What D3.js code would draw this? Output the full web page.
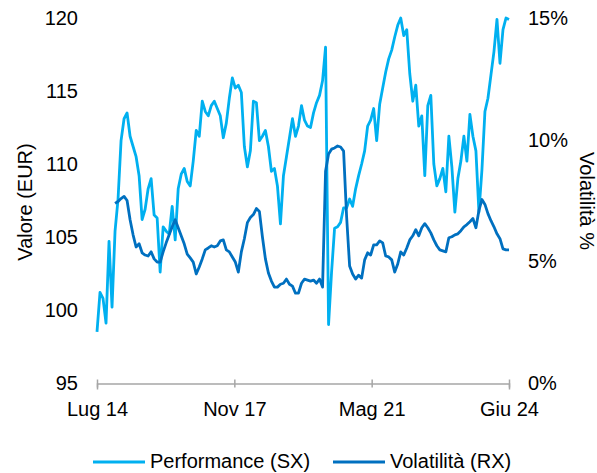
<!DOCTYPE html>
<html>
<head>
<meta charset="utf-8">
<script src="https://cdn.jsdelivr.net/npm/d3@7"></script>
<style>
  body { margin: 0; background: #fff; }
  svg { display: block; }
  text { font-family: "Liberation Sans", Arial, sans-serif; fill: #000; }
</style>
</head>
<body>
<svg id="chart" width="597" height="473"></svg>
<script>
// Fund value (left axis, EUR), sampled evenly from Jul 2014 to Jun 2024
const perfValues = [
  98.5, 101.2, 100.8, 99.1, 104.7, 100.2, 105.4, 107.6, 111.6, 113.1,
  113.5, 111.9, 111.2, 110.5, 109.2, 106.2, 106.9, 108.3, 109.0, 106.5,
  106.3, 102.6, 105.7, 105.4, 105.2, 107.1, 104.8, 108.3, 109.3, 109.7,
  108.8, 108.5, 110.2, 112.3, 111.9, 114.3, 113.6, 113.3, 114.0, 114.3,
  113.8, 113.3, 111.8, 112.8, 114.5, 115.9, 115.2, 115.4, 114.9, 111.2,
  109.8, 110.9, 114.3, 114.2, 111.6, 111.9, 112.3, 111.2, 109.5, 109.7,
  108.5, 105.9, 109.2, 110.5, 111.8, 113.1, 111.9, 112.6, 114.0, 113.0,
  112.6, 112.5, 113.5, 114.2, 114.7, 115.7, 118.0, 99.0, 102.6, 105.6,
  105.7, 106.0, 107.0, 107.0, 107.6, 107.1, 108.3, 109.2, 110.0, 110.9,
  112.6, 113.0, 113.8, 111.6, 114.1, 115.2, 116.3, 117.2, 117.8, 118.7,
  119.5, 120.0, 118.8, 119.2, 116.2, 114.3, 115.4, 112.6, 113.3, 109.2,
  114.0, 114.7, 110.0, 108.5, 109.0, 109.7, 108.1, 111.9, 109.8, 106.7,
  109.0, 110.2, 111.9, 110.2, 113.4, 111.9, 110.9, 106.7, 109.6, 113.6,
  114.5, 116.1, 117.7, 119.9, 116.9, 119.2, 120.0, 119.9
];

// Rolling volatility (right axis, %); the first samples have no value yet
const volValues = [
  null, null, null, null, null, null,
  7.38, 7.46, 7.58, 7.67, 7.50, 6.71, 6.09, 5.59, 5.72, 5.35,
  5.26, 5.22, 5.39, 5.10, 4.97, 4.97, 5.39, 5.76, 6.09, 6.42,
  6.71, 6.38, 6.05, 5.72, 5.30, 5.14, 4.97, 4.48, 4.77, 5.10,
  5.47, 5.55, 5.64, 5.59, 5.64, 5.84, 5.88, 5.47, 5.39, 5.18,
  4.97, 4.56, 5.39, 5.93, 6.59, 6.80, 6.92, 7.17, 7.05, 6.01,
  5.10, 4.52, 4.19, 3.94, 3.94, 4.06, 4.10, 4.27, 4.06, 3.98,
  3.69, 3.69, 4.10, 4.27, 4.23, 4.19, 4.23, 4.10, 4.27, 3.94,
  8.70, 9.41, 9.61, 9.66, 9.74, 9.70, 9.53, 6.84, 4.81, 4.48,
  4.27, 4.43, 4.31, 5.06, 5.35, 5.26, 5.68, 5.68, 5.84, 5.76,
  5.22, 5.18, 5.06, 4.56, 4.89, 5.39, 5.26, 5.55, 5.88, 6.05,
  6.30, 6.05, 6.38, 6.55, 6.38, 6.17, 5.88, 5.64, 5.47, 5.43,
  5.39, 5.97, 6.01, 6.09, 6.13, 6.26, 6.42, 6.51, 6.63, 6.76,
  6.38, 7.09, 7.54, 7.34, 6.96, 6.67, 6.42, 6.13, 5.93, 5.51,
  5.47, 5.47
];

const xTickLabels = ["Lug 14", "Nov 17", "Mag 21", "Giu 24"];
const leftTicks = [95, 100, 105, 110, 115, 120];
const rightTicks = [0, 5, 10, 15];
const seriesNames = ["Performance (SX)", "Volatilità (RX)"];
const seriesColors = ["#00b0f0", "#0070c0"];

const svg = d3.select("#chart");
const n = perfValues.length;

const x = d3.scaleLinear().domain([0, n - 1]).range([97, 509]);
const yLeft = d3.scaleLinear().domain([95, 120]).range([383, 18]);
const yRight = d3.scaleLinear().domain([0, 15]).range([383, 18]);

// Bottom axis: grey baseline with tick marks, evenly spaced date labels
const tickPos = xTickLabels.map((_, i) => (n - 1) * i / (xTickLabels.length - 1));
const xAxis = d3.axisBottom(x)
  .tickValues(tickPos)
  .tickFormat((d, i) => xTickLabels[i])
  .tickSizeOuter(0)
  .tickSize(6);
const gx = svg.append("g").attr("transform", "translate(0,383.5)").call(xAxis);
gx.select(".domain").attr("stroke", "#a6a6a6").attr("stroke-width", 1.5);
gx.selectAll(".tick line").attr("stroke", "#a6a6a6").attr("stroke-width", 1.5).attr("y1", -4).attr("y2", 4);
gx.selectAll(".tick text")
  .attr("y", 18).attr("dy", "0.71em")
  .style("font-size", "20px").style("font-family", "Liberation Sans, Arial, sans-serif").attr("fill", "#000");

// Left value axis (labels only)
const gl = svg.append("g").attr("transform", "translate(78,0)")
  .call(d3.axisLeft(yLeft).tickValues(leftTicks).tickSize(0).tickPadding(0));
gl.select(".domain").remove();
gl.selectAll(".tick text")
  .style("font-size", "20px").style("font-family", "Liberation Sans, Arial, sans-serif").attr("fill", "#000");

// Right volatility axis (labels only)
const gr = svg.append("g").attr("transform", "translate(528,0)")
  .call(d3.axisRight(yRight).tickValues(rightTicks).tickFormat(d => d + "%").tickSize(0).tickPadding(0));
gr.select(".domain").remove();
gr.selectAll(".tick text")
  .style("font-size", "20px").style("font-family", "Liberation Sans, Arial, sans-serif").attr("fill", "#000");

// Axis titles
svg.append("text")
  .attr("transform", "translate(32,202) rotate(-90)")
  .attr("text-anchor", "middle")
  .style("font-size", "20px")
  .text("Valore (EUR)");
svg.append("text")
  .attr("transform", "translate(580,201) rotate(90)")
  .attr("text-anchor", "middle")
  .style("font-size", "20px")
  .text("Volatilità %");

// Series lines
const perfLine = d3.line()
  .x((d, i) => x(i))
  .y(d => yLeft(d));
const volLine = d3.line()
  .defined(d => d !== null)
  .x((d, i) => x(i))
  .y(d => yRight(d));

svg.append("path")
  .datum(perfValues)
  .attr("d", perfLine)
  .attr("fill", "none")
  .attr("stroke", seriesColors[0])
  .attr("stroke-width", 2.8)
  .attr("stroke-linejoin", "round");

svg.append("path")
  .datum(volValues)
  .attr("d", volLine)
  .attr("fill", "none")
  .attr("stroke", seriesColors[1])
  .attr("stroke-width", 2.8)
  .attr("stroke-linejoin", "round");

// Legend
const legendItems = [
  { x1: 93, x2: 145, tx: 150 },
  { x1: 333, x2: 385, tx: 390 }
];
const lg = svg.append("g");
legendItems.forEach((it, i) => {
  lg.append("line")
    .attr("x1", it.x1).attr("x2", it.x2)
    .attr("y1", 462).attr("y2", 462)
    .attr("stroke", seriesColors[i])
    .attr("stroke-width", 3);
  lg.append("text")
    .attr("x", it.tx).attr("y", 468)
    .style("font-size", "20px")
    .text(seriesNames[i]);
});
</script>
</body>
</html>
